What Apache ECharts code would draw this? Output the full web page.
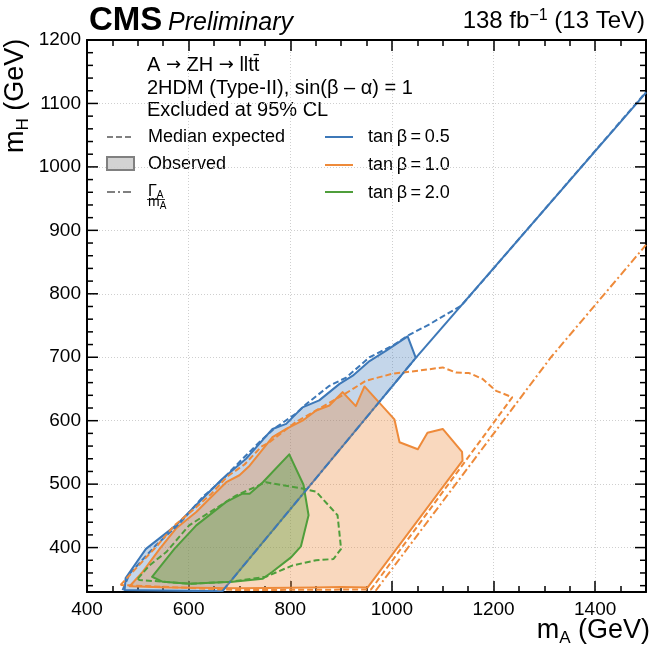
<!DOCTYPE html>
<html><head><meta charset="utf-8">
<script src="https://cdn.jsdelivr.net/npm/echarts@6/dist/echarts.min.js"></script>
<style>html,body{margin:0;padding:0;background:#fff}#c{width:654px;height:657px}</style>
</head><body><div id="c"></div>
<script>
// ---------------- data ----------------
const xMajorTicks = [400, 600, 800, 1000, 1200, 1400];
const yMajorTicks = [400, 500, 600, 700, 800, 900, 1000, 1100, 1200];
const yMinorTicks = [340, 360, 380, 420, 440, 460, 480, 520, 540, 560, 580, 620, 640, 660, 680,
  720, 740, 760, 780, 820, 840, 860, 880, 920, 940, 960, 980, 1020, 1040, 1060, 1080, 1120, 1140, 1160, 1180];

// tan(beta)=0.5 observed contour (filled)
const blueObsMA = [474, 476, 516, 575, 627, 666, 713, 765, 792, 824, 857, 897, 923, 956, 988, 1031, 1047, 666, 474];
const blueObsMH = [333, 352, 398, 435, 477, 508, 540, 587, 595, 621, 632, 658, 671, 694, 710, 733, 699, 331, 333];
// tan(beta)=0.5 observed, narrow high-mass part
const blueObsTailMA = [1047, 1500];
const blueObsTailMH = [699, 1117];
// tan(beta)=0.5 median expected
const blueExpMA = [470, 484, 536, 582, 628, 661, 700, 739, 769, 811, 831, 877, 910, 956, 1001, 1031, 1074, 1136, 1159, 1500];
const blueExpMH = [333, 359, 404, 438, 480, 503, 535, 566, 588, 611, 626, 655, 668, 700, 718, 734, 752, 781, 802, 1118];
// tan(beta)=0.5 width line
const blueWidthMA = [666, 1047];
const blueWidthMH = [331, 699];

// tan(beta)=1.0 observed
const orangeObsMA = [484, 510, 543, 575, 615, 641, 674, 700, 720, 752, 765, 792, 824, 851, 877, 903, 929, 946, 1005, 1015, 1051, 1070, 1100, 1138, 1139, 952, 900, 850, 700, 560, 484];
const orangeObsMH = [339, 362, 398, 430, 456, 477, 503, 514, 529, 561, 574, 587, 600, 616, 624, 645, 623, 654, 602, 566, 555, 581, 587, 551, 537, 337, 338, 337, 336, 337, 339];
// tan(beta)=1.0 median expected
const orangeExpMA = [466, 503, 537, 572, 611, 645, 676, 710, 743, 759, 811, 857, 903, 949, 1001, 1054, 1100, 1126, 1152, 1178, 1205, 1237, 959, 700, 466];
const orangeExpMH = [341, 373, 402, 435, 461, 485, 512, 531, 559, 566, 598, 619, 640, 663, 674, 679, 684, 676, 675, 666, 647, 637, 334, 333, 341];
// tan(beta)=1.0 width line
const orangeWidthMA = [968, 1313, 1500];
const orangeWidthMH = [332, 700, 877];

// tan(beta)=2.0 observed
const greenObsMA = [528, 572, 615, 674, 706, 720, 746, 798, 826, 836, 821, 802, 765, 746, 687, 602, 549, 528];
const greenObsMH = [354, 398, 435, 472, 485, 485, 503, 547, 499, 451, 402, 385, 362, 351, 346, 343, 346, 354];
// tan(beta)=2.0 median expected
const greenExpMA = [500, 523, 556, 601, 693, 752, 824, 851, 893, 900, 885, 851, 805, 752, 680, 602, 503, 500];
const greenExpMH = [351, 372, 393, 435, 482, 503, 493, 488, 451, 398, 382, 380, 372, 354, 346, 343, 349, 351];

// ---------------- style ----------------
const FONT = "'Liberation Sans', Arial, Helvetica, sans-serif";
const SYM = "'DejaVu Sans', sans-serif";
const BLUE = '#3d78b8', ORANGE = '#ee8a3a', GREEN = '#4f9e3b';
const BLUE_F = 'rgba(61,120,184,0.30)', ORANGE_F = 'rgba(238,138,58,0.33)', GREEN_F = 'rgba(79,158,59,0.35)';
const DASH = [6, 3], DASHDOT = [8, 3, 2, 3];
const X_MIN = 400, X_MAX = 1500, Y_MIN = 330, Y_MAX = 1200;
const GRID = { left: 87, right: 8, top: 40, bottom: 65 };
const W = 654, H = 657;
const TICK_W = 1.5;

const mctx = document.createElement('canvas').getContext('2d');
function tw(text, font) { mctx.font = font; return mctx.measureText(text).width; }
function txt(text, x, base, size, extra) {
  extra = extra || {};
  const font = (extra.style ? extra.style + ' ' : '') + size + 'px ' + (extra.family || FONT);
  return { type: 'text', x: x, y: base - 0.35 * size, silent: true,
    style: { text: text, font: font, fill: extra.fill || '#000', textAlign: extra.align || 'left', textVerticalAlign: 'middle' } };
}

function pairs(xs, ys) { return xs.map((x, i) => [x, ys[i]]); }
function polySeries(name, xs, ys, stroke, fill, z) {
  const pts = pairs(xs, ys);
  return {
    type: 'custom', name: name, xAxisIndex: 0, yAxisIndex: 0, data: pts, encode: { x: 0, y: 1 },
    clip: true, silent: true, z: z,
    renderItem: function (params, api) {
      if (params.dataIndex !== 0) return;
      return { type: 'polygon', shape: { points: pts.map(p => api.coord(p)) },
        style: { fill: fill, stroke: stroke, lineWidth: 2, lineJoin: 'round' } };
    }
  };
}
function lineSeries(name, xs, ys, color, dash, z) {
  return { type: 'line', name: name, xAxisIndex: 0, yAxisIndex: 0, data: pairs(xs, ys), showSymbol: false, symbol: 'none',
    silent: true, z: z, clip: true, lineStyle: { color: color, width: 2, type: dash } };
}

function xAx(pos, major) {
  return { type: 'value', min: X_MIN, max: X_MAX, interval: 200, position: pos,
    axisLine: { show: true, onZero: false, lineStyle: { color: '#000', width: 2 } },
    axisTick: { show: true, inside: true, length: 11, lineStyle: { color: '#000', width: TICK_W } },
    minorTick: { show: true, splitNumber: 4, length: 6, lineStyle: { color: '#000', width: TICK_W } },
    axisLabel: { show: major, color: '#000', fontSize: 19, fontFamily: FONT, margin: 8, showMaxLabel: false,
      formatter: v => (xMajorTicks.indexOf(v) >= 0 ? String(v) : '') },
    splitLine: { show: major, lineStyle: { color: '#cfcfcf', width: 1, type: [1, 2] } } };
}
function yAx(pos, major) {
  return { type: 'value', min: Y_MIN, max: Y_MAX, position: pos,
    axisLine: { show: true, onZero: false, lineStyle: { color: '#000', width: 2 } },
    axisTick: { show: false, customValues: yMajorTicks },
    axisLabel: { show: major, customValues: yMajorTicks, color: '#000', fontSize: 19, fontFamily: FONT, margin: 6,
      formatter: v => String(v) },
    splitLine: { show: major, lineStyle: { color: '#cfcfcf', width: 1, type: [1, 2] } },
    minorTick: { show: false } };
}

// ---------------- graphic text ----------------
const G = [];
G.push(txt('CMS', 89, 32, 33, { style: 'bold' }));
G.push(txt('Preliminary', 168, 32, 25, { style: 'italic' }));
(function () {
  const f1 = '24px ' + FONT, f2 = '16px ' + FONT;
  const a = '138 fb', s = '\u22121', b = ' (13 TeV)';
  const w1 = tw(a, f1), ws = tw(s, f2), w3 = tw(b, f1);
  const x0 = 645 - (w1 + ws + w3);
  G.push(txt(a, x0, 30, 24));
  G.push(txt(s, x0 + w1, 21, 16));
  G.push(txt(b, x0 + w1 + ws, 30, 24));
})();
(function () {
  const f1 = '27px ' + FONT, f2 = '17px ' + FONT;
  const w1 = tw('m', f1), w2 = tw('A', f2), w3 = tw(' (GeV)', f1);
  const x0 = 650 - (w1 + w2 + w3);
  G.push(txt('m', x0, 640, 27));
  G.push(txt('A', x0 + w1, 644, 17));
  G.push(txt(' (GeV)', x0 + w1 + w2, 640, 27));
})();
(function () {
  const f1 = '27px ' + FONT, f2 = '17px ' + FONT;
  const w1 = tw('m', f1), w2 = tw('H', f2);
  G.push({ type: 'group', x: 25, y: 153, rotation: Math.PI / 2, silent: true,
    children: [txt('m', 0, 0, 27), txt('H', w1, 4, 17), txt(' (GeV)', w1 + w2, 0, 27)] });
})();
(function () {
  const f = '20px ' + FONT, fa = '18px ' + SYM;
  const parts = [['A ', f, 0], ['\u2192', fa, 1], [' ZH ', f, 0], ['\u2192', fa, 1], [' llt\u0074\u0304', f, 0]];
  let x = 147;
  parts.forEach(p => {
    G.push(txt(p[0], x, 72, p[2] ? 18 : 20, p[2] ? { family: SYM } : {}));
    x += tw(p[0], p[1]);
  });
})();
G.push(txt('2HDM (Type-II), sin(\u03B2 \u2013 \u03B1) = 1', 147, 95, 20));
G.push(txt('Excluded at 95% CL', 147, 117, 20));
G.push({ type: 'line', silent: true, shape: { x1: 107, y1: 137, x2: 133, y2: 137 }, style: { stroke: '#808080', lineWidth: 2, lineDash: DASH } });
G.push(txt('Median expected', 148, 143, 18));
G.push({ type: 'rect', silent: true, shape: { x: 107, y: 157, width: 27, height: 13 }, style: { fill: '#d3d3d3', stroke: '#808080', lineWidth: 2 } });
G.push(txt('Observed', 148, 170, 18));
G.push({ type: 'line', silent: true, shape: { x1: 107, y1: 192, x2: 133, y2: 192 }, style: { stroke: '#808080', lineWidth: 2, lineDash: DASHDOT } });
(function () {
  const wG = tw('\u0393', '16px ' + FONT), wm = tw('m', '14px ' + FONT);
  G.push(txt('\u0393', 148, 197, 16));
  G.push(txt('A', 148 + wG, 199, 10));
  G.push({ type: 'line', silent: true, shape: { x1: 147, y1: 199.5, x2: 165, y2: 199.5 }, style: { stroke: '#000', lineWidth: 0.8 } });
  G.push(txt('m', 148, 207.5, 14));
  G.push(txt('A', 148 + wm, 210, 10));
})();
const legendTanB = ['0.5', '1.0', '2.0'];
[[BLUE, 137, 143], [ORANGE, 165, 171], [GREEN, 192, 199]].forEach((r, i) => {
  G.push({ type: 'line', silent: true, shape: { x1: 325, y1: r[1], x2: 353, y2: r[1] }, style: { stroke: r[0], lineWidth: 2 } });
  G.push(txt('tan\u2009\u03B2\u2009=\u2009' + legendTanB[i], 368, r[2], 18));
});
// y-axis ticks (left and right), placed along the grid's linear y scale
(function () {
  const x0 = GRID.left, x1 = W - GRID.right, yTop = GRID.top, yBot = H - GRID.bottom;
  function py(v) { return yBot - (v - Y_MIN) / (Y_MAX - Y_MIN) * (yBot - yTop); }
  function yt(v, len) {
    const y = py(v);
    G.push({ type: 'line', silent: true, z: 100, shape: { x1: x0, y1: y, x2: x0 + len, y2: y }, style: { stroke: '#000', lineWidth: TICK_W } });
    G.push({ type: 'line', silent: true, z: 100, shape: { x1: x1, y1: y, x2: x1 - len, y2: y }, style: { stroke: '#000', lineWidth: TICK_W } });
  }
  yMajorTicks.forEach(v => yt(v, 11));
  yMinorTicks.forEach(v => yt(v, 6));
})();

// ---------------- chart ----------------
const chart = echarts.init(document.getElementById('c'), null, { renderer: 'canvas' });
chart.setOption({
  animation: false,
  backgroundColor: '#fff',
  grid: { left: GRID.left, right: GRID.right, top: GRID.top, bottom: GRID.bottom, containLabel: false },
  xAxis: [xAx('bottom', true), xAx('top', false)],
  yAxis: [yAx('left', true), yAx('right', false)],
  series: [
    polySeries('blueObs', blueObsMA, blueObsMH, BLUE, BLUE_F, 2),
    lineSeries('blueObsTail', blueObsTailMA, blueObsTailMH, BLUE, 'solid', 5),
    polySeries('orangeObs', orangeObsMA, orangeObsMH, ORANGE, ORANGE_F, 3),
    polySeries('greenObs', greenObsMA, greenObsMH, GREEN, GREEN_F, 4),
    lineSeries('blueExp', blueExpMA, blueExpMH, BLUE, DASH, 6),
    lineSeries('orangeExp', orangeExpMA, orangeExpMH, ORANGE, DASH, 6),
    lineSeries('greenExp', greenExpMA, greenExpMH, GREEN, DASH, 6),
    lineSeries('blueWidth', blueWidthMA, blueWidthMH, BLUE, DASHDOT, 7),
    lineSeries('orangeWidth', orangeWidthMA, orangeWidthMH, ORANGE, DASHDOT, 7)
  ],
  graphic: G
});
</script>
</body></html>
